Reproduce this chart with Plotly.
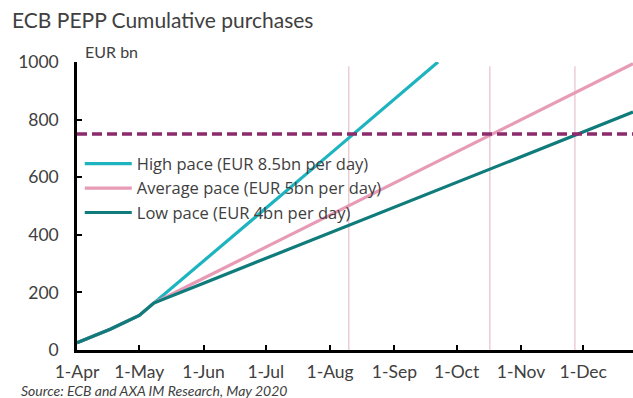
import plotly.graph_objects as go

# ---- data ----
actual_dates = ["2020-04-01", "2020-04-17", "2020-05-01", "2020-05-08"]
actual_vals = [25, 72, 120, 163]

high_dates = ["2020-05-08", "2020-06-01", "2020-07-01", "2020-08-01", "2020-09-01", "2020-09-22"]
high_vals = [163, 309, 492, 681, 870, 1000]

avg_dates = ["2020-05-08", "2020-06-01", "2020-07-01", "2020-08-01", "2020-09-01",
             "2020-10-01", "2020-11-01", "2020-12-01", "2020-12-25"]
avg_vals = [163, 249, 357, 469, 580, 688, 800, 908, 994]

low_dates = ["2020-05-08", "2020-06-01", "2020-07-01", "2020-08-01", "2020-09-01",
             "2020-10-01", "2020-11-01", "2020-12-01", "2020-12-25"]
low_vals = [163, 232, 318, 407, 496, 582, 671, 757, 826]

threshold = 750
cross_dates = ["2020-08-10", "2020-10-17", "2020-11-27"]
cross_top = 985

tick_dates = ["2020-04-01", "2020-05-01", "2020-06-01", "2020-07-01", "2020-08-01",
              "2020-09-01", "2020-10-01", "2020-11-01", "2020-12-01"]
tick_text = ["1-Apr", "1-May", "1-Jun", "1-Jul", "1-Aug", "1-Sep", "1-Oct", "1-Nov", "1-Dec"]
x_range = ["2020-04-01", "2020-12-25"]

names = ["High pace (EUR 8.5bn per day)", "Average pace (EUR 5bn per day)", "Low pace (EUR 4bn per day)"]

C_HIGH = "#1db4bf"
C_AVG = "#e79bb6"
C_LOW = "#0f7b7b"
C_DASH = "#8c2b6c"
C_VLINE = "#e8bfcf"
TXT = "#404040"
FONT = "Lato"
LEG_FONT = "Open Sans"

fig = go.Figure()

for d in cross_dates:
    fig.add_trace(go.Scatter(x=[d, d], y=[0, cross_top], mode="lines",
                             line=dict(color=C_VLINE, width=1.2), showlegend=False,
                             hoverinfo="skip"))

series = [
    (names[0], actual_dates + high_dates[1:], actual_vals + high_vals[1:], C_HIGH),
    (names[1], actual_dates + avg_dates[1:], actual_vals + avg_vals[1:], C_AVG),
    (names[2], actual_dates + low_dates[1:], actual_vals + low_vals[1:], C_LOW),
]
for i, (nm, xs, ys, col) in enumerate(series):
    fig.add_trace(go.Scatter(x=xs, y=ys, mode="lines", name=nm,
                             line=dict(color=col, width=3.2),
                             legendgroup=f"g{i}"))

fig.add_trace(go.Scatter(x=x_range, y=[threshold, threshold], mode="lines",
                         line=dict(color=C_DASH, width=3.5, dash="10px,5px"),
                         showlegend=False, hoverinfo="skip"))

fig.update_layout(
    width=633, height=398,
    margin=dict(l=77, r=0, t=62, b=48),
    paper_bgcolor="white", plot_bgcolor="white",
    font=dict(family=FONT, color=TXT, size=17),
    title=dict(text="ECB PEPP Cumulative purchases", x=12 / 633, xref="container",
               y=1 - 21 / 398, yref="container", xanchor="left", yanchor="middle",
               font=dict(size=21, color=TXT, family=FONT)),
    showlegend=True,
    legend=dict(x=0.005, y=0.707, xanchor="left", yanchor="top",
                bgcolor="rgba(0,0,0,0)", font=dict(size=16.5, color=TXT, family=LEG_FONT),
                tracegroupgap=0, itemwidth=47),
    xaxis=dict(type="date", range=x_range, tickmode="array", tickvals=tick_dates,
               ticktext=tick_text, showgrid=False, zeroline=False,
               showline=True, linecolor="black", linewidth=2.5,
               ticks="inside", ticklen=5, tickwidth=2, tickcolor="black",
               ticklabelstandoff=4,
               tickfont=dict(size=17.5, color=TXT)),
    yaxis=dict(range=[0, 1000], tickvals=[0, 200, 400, 600, 800, 1000],
               showgrid=False, zeroline=False, showline=True, linecolor="black",
               linewidth=2.5, ticks="inside", ticklen=5, tickwidth=2, tickcolor="black",
               ticklabelstandoff=12,
               tickfont=dict(size=17.5, color=TXT)),
    annotations=[
        dict(text="EUR bn", xref="paper", yref="paper", x=(83 - 77) / 556, y=0.995,
             xanchor="left", yanchor="bottom", showarrow=False,
             font=dict(size=16, color=TXT, family=FONT)),
        dict(text="<i>Source: ECB and AXA IM Research, May 2020</i>", xref="paper",
             yref="paper", x=-(77 - 19) / 556, y=-(390.5 - 350) / 288, xanchor="left",
             yanchor="middle", showarrow=False,
             font=dict(size=14, color=TXT, family=FONT)),
    ],
)

fig.write_html("out.html")
